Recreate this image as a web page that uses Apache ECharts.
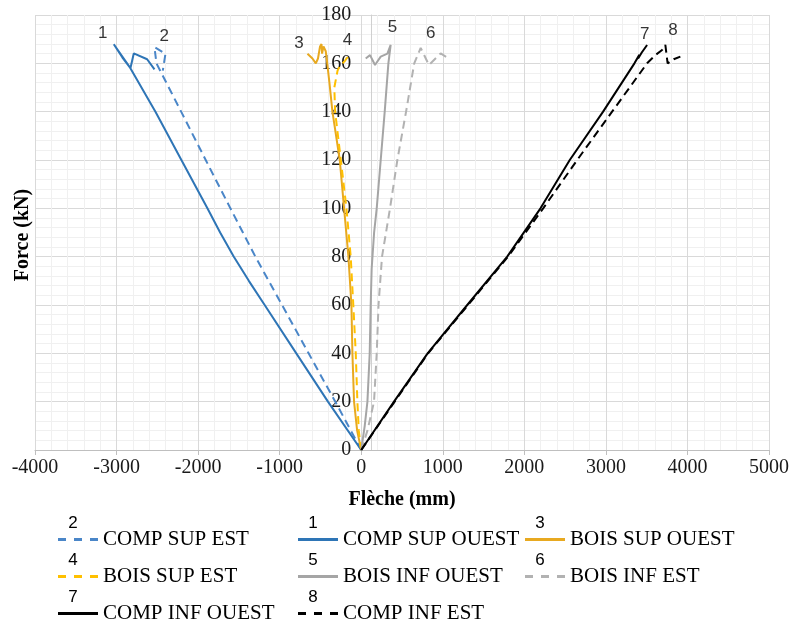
<!DOCTYPE html>
<html>
<head>
<meta charset="utf-8">
<script src="https://cdn.jsdelivr.net/npm/echarts@6/dist/echarts.min.js"></script>
<style>html,body{margin:0;padding:0;background:#fff}#c{width:792px;height:628px}</style>
</head>
<body>
<div id="c"></div>
<script>
// ---- data (Flèche mm, Force kN) ----
const compSupOuestX = [0,-408,-796,-1184,-1378,-1562,-1730,-1886,-2205,-2523,-2841,-3034,-2930,-2830,-2789,-2625,-2535];
const compSupOuestY = [0,20,40,60,70,80,90,100,120,140,158.6,167.9,162.5,158,164.1,161.7,157.5];
const compSupEstX = [0,-318,-645,-971,-1298,-1604,-1907,-2208,-2511,-2535,-2400,-2433];
const compSupEstY = [0,20,40,60,80,100,120,140,160,166.7,164,157];
const boisSupOuestX = [0,-50,-88,-108,-120,-157,-210,-263,-353,-390,-420,-435,-463,-480,-487,-505,-530,-557,-598,-659];
const boisSupOuestY = [0,8,20,40,60,80,100,120,140,152,161,165,167,164,168,167,162,160,162,164];
const boisSupEstX = [0,-30,-47,-67,-97,-129,-181,-250,-320,-330,-290,-259,-200,-149];
const boisSupEstY = [0,8,20,40,60,80,100,120,140,150,157,159,161,163.5];
const boisInfOuestX = [0,43,76,104,116,128,158,190,239,288,333,361,321,239,169,108,55];
const boisInfOuestY = [0,10,20,40,60,75,90,100,120,140,160,167.6,164,162.8,159.3,163.4,162];
const boisInfEstX = [0,76,157,190,212,255,353,443,550,650,729,830,974,1075];
const boisInfEstY = [0,8,20,40,60,80,100,120,140,160,166.4,159.3,164.1,162];
const compInfOuestX = [0,402,814,1300,1790,2198,2557,2966,3350,3410,3395,3440,3505];
const compInfOuestY = [0,20,40,60,80,100,120,140,160,163.5,162,164.5,167.6];
const compInfEstX = [0,410,820,1310,1800,2231,2648,3076,3505,3607,3689,3729,3757,3831,3913];
const compInfEstY = [0,20,40,60,80,100,120,140,160,163.4,165.5,167.6,160,161.7,162.8];

const curveNames = ['1','2','3','4','5','6','7','8'];
const curveLabelX = [-3170,-2415,-762,-169,382,851,3476,3823];
const curveLabelY = [172.4,171,168.3,169.6,175,172.4,172,173.8];

const xMin = -4000, xMax = 5000, xStep = 1000;
const yMin = 0, yMax = 180, yStep = 20;

// ---- helpers ----
const zip = (xs, ys) => xs.map((x, i) => [x, ys[i]]);
const serif = '"Liberation Serif", "Times New Roman", serif';
const sans = '"Liberation Sans", Arial, sans-serif';
const SOLID_ICON = 'path://M0,0H40V3H0Z';
const DASH_ICON = 'path://M0,0H8V3H0Z M16,0H24V3H16Z M32,0H40V3H32Z';

function lineSeries(name, xs, ys, color, dashed) {
  return {
    name, type: 'line', data: zip(xs, ys), symbol: 'none', smooth: false,
    lineStyle: { color, width: 2, type: dashed ? [8, 5] : 'solid' },
    itemStyle: { color },
    z: 3
  };
}

const series = [
  lineSeries('COMP SUP EST', compSupEstX, compSupEstY, '#4A86C8', true),
  lineSeries('COMP SUP OUEST', compSupOuestX, compSupOuestY, '#2E75B6', false),
  lineSeries('BOIS SUP OUEST', boisSupOuestX, boisSupOuestY, '#E8A920', false),
  lineSeries('BOIS SUP EST', boisSupEstX, boisSupEstY, '#FFC000', true),
  lineSeries('BOIS INF OUEST', boisInfOuestX, boisInfOuestY, '#A5A5A5', false),
  lineSeries('BOIS INF EST', boisInfEstX, boisInfEstY, '#B2B2B2', true),
  lineSeries('COMP INF OUEST', compInfOuestX, compInfOuestY, '#000000', false),
  lineSeries('COMP INF EST', compInfEstX, compInfEstY, '#000000', true),
  {
    name: 'labels', type: 'scatter', silent: true, symbolSize: 0,
    data: curveNames.map((n, i) => ({ name: n, value: [curveLabelX[i], curveLabelY[i]] })),
    label: { show: true, position: 'inside', formatter: p => p.name,
             fontFamily: sans, fontSize: 17, color: '#000' },
    z: 4
  }
];

const dashedNames = ['COMP SUP EST', 'BOIS SUP EST', 'BOIS INF EST', 'COMP INF EST'];
const legendItem = n => ({ name: n, icon: dashedNames.includes(n) ? DASH_ICON : SOLID_ICON });

const legendBase = {
  orient: 'vertical', top: 524, height: 110, itemWidth: 40, itemHeight: 3, itemGap: 16,
  selectedMode: false,
  textStyle: { fontFamily: serif, fontSize: 21, color: '#000', lineHeight: 21 }
};

const rowY = [535, 572, 609];
const colX = [73, 313, 540];
const legendNums = [
  ['2', 0, 0], ['1', 1, 0], ['3', 2, 0],
  ['4', 0, 1], ['5', 1, 1], ['6', 2, 1],
  ['7', 0, 2], ['8', 1, 2]
];

const graphic = [
  { type: 'text', x: 23, y: 235, rotation: Math.PI / 2,
    style: { text: 'Force (kN)', fontFamily: serif, fontSize: 20, fontWeight: 'bold',
             fill: '#000', align: 'center', verticalAlign: 'middle' } }
].concat(legendNums.map(([t, c, r]) => ({
  type: 'text', x: colX[c], y: rowY[r] - 3,
  style: { text: t, fontFamily: sans, fontSize: 17, fill: '#000',
           align: 'center', verticalAlign: 'bottom' }
})));

const gridLeft = 35;
const chart = echarts.init(document.getElementById('c'), null, { renderer: 'canvas' });
chart.setOption({
  animation: false,
  backgroundColor: '#fff',
  grid: { left: gridLeft, right: 22, top: 15, bottom: 178, containLabel: false },
  xAxis: {
    type: 'value', min: xMin, max: xMax, interval: xStep,
    name: 'Flèche (mm)', nameLocation: 'middle', nameGap: 40,
    nameTextStyle: { fontFamily: serif, fontSize: 20, fontWeight: 'bold', color: '#000' },
    axisLine: { show: true, onZero: true, lineStyle: { color: '#BFBFBF', width: 1 } },
    axisTick: { show: true, length: 5, lineStyle: { color: '#BFBFBF' } },
    axisLabel: { fontFamily: serif, fontSize: 20, color: '#1a1a1a', margin: 8,
                 formatter: v => String(v) },
    splitLine: { show: true, lineStyle: { color: '#D9D9D9', width: 1 } },
    minorTick: { show: false, splitNumber: 5 },
    minorSplitLine: { show: true, lineStyle: { color: '#F0F0F0', width: 1 } }
  },
  yAxis: {
    type: 'value', min: yMin, max: yMax, interval: yStep, position: 'left',
    axisLine: { show: true, onZero: false, lineStyle: { color: '#D0D0D0', width: 1 } },
    axisTick: { show: false },
    axisLabel: { fontFamily: serif, fontSize: 20, color: '#1a1a1a', margin: 20,
                 formatter: v => String(v) },
    splitLine: { show: true, lineStyle: { color: '#D9D9D9', width: 1 } },
    minorTick: { show: false, splitNumber: 5 },
    minorSplitLine: { show: true, lineStyle: { color: '#F0F0F0', width: 1 } }
  },
  legend: [
    Object.assign({}, legendBase, { left: 53, data: ['COMP SUP EST', 'BOIS SUP EST', 'COMP INF OUEST'].map(legendItem) }),
    Object.assign({}, legendBase, { left: 293, data: ['COMP SUP OUEST', 'BOIS INF OUEST', 'COMP INF EST'].map(legendItem) }),
    Object.assign({}, legendBase, { left: 520, data: ['BOIS SUP OUEST', 'BOIS INF EST'].map(legendItem) })
  ],
  graphic,
  series
});
// place the y axis on x = 0 (as in the reference)
const zeroPx = chart.convertToPixel({ xAxisIndex: 0 }, 0);
chart.setOption({ yAxis: { offset: -(zeroPx - gridLeft) } });
</script>
</body>
</html>
